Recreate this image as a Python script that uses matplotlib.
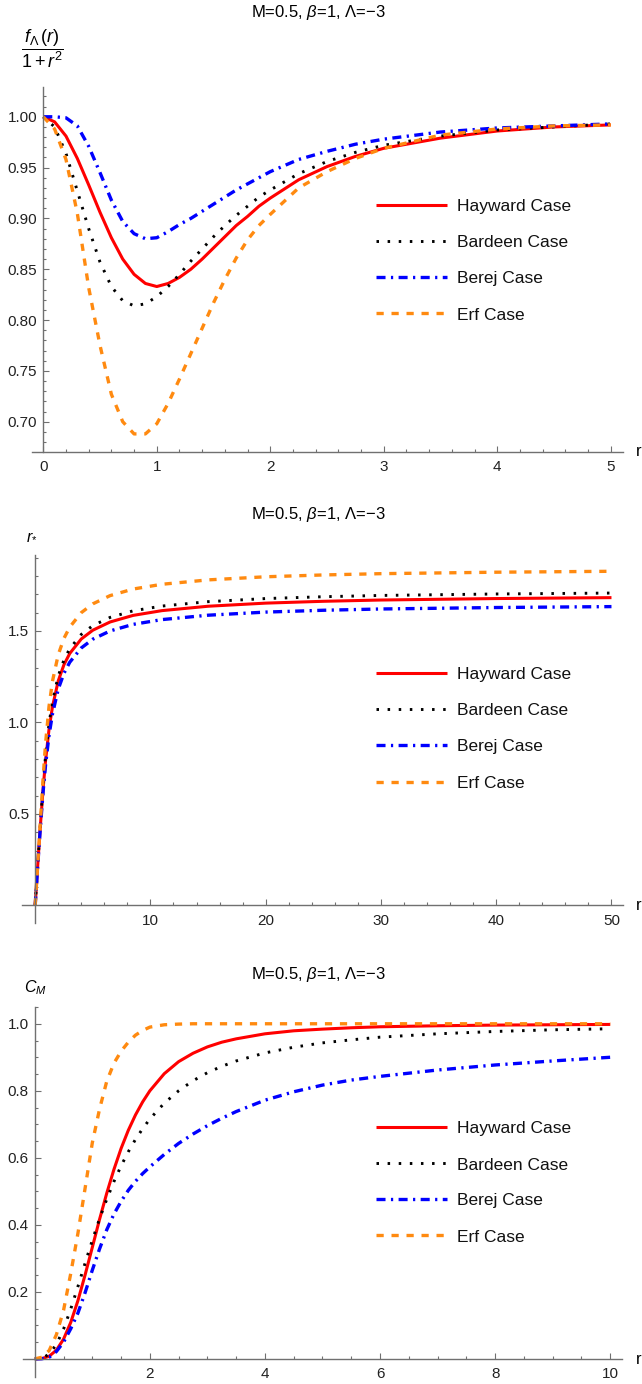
import matplotlib

matplotlib.use("Agg")
import matplotlib.pyplot as plt
import numpy as np
from matplotlib.lines import Line2D
from matplotlib.ticker import FixedLocator, FormatStrFormatter

plt.rcParams["font.family"] = ["Liberation Sans", "DejaVu Sans"]
plt.rcParams["mathtext.fontset"] = "custom"
plt.rcParams["mathtext.rm"] = "Liberation Sans"
plt.rcParams["mathtext.it"] = "Liberation Sans:italic"
plt.rcParams["mathtext.bf"] = "Liberation Sans:bold"
plt.rcParams["lines.scale_dashes"] = False

W, H = 642, 1384

CASES = ["Hayward Case", "Bardeen Case", "Berej Case", "Erf Case"]
TITLE = "M=0.5, $\\beta$=1, Λ=−3"

# f_Λ(r) / (1 + r^2)
r_metric = [0, 0.1, 0.2, 0.3, 0.4, 0.5, 0.6, 0.7, 0.8, 0.9, 1.0, 1.1, 1.2, 1.3,
            1.4, 1.5, 1.6, 1.7, 1.8, 1.9, 2.0, 2.25, 2.5, 2.75, 3.0, 3.5, 4.0,
            4.5, 5.0]
metric_hayward = [1.000, 0.995, 0.981, 0.959, 0.933, 0.906, 0.881, 0.860, 0.845,
                  0.836, 0.833, 0.836, 0.842, 0.850, 0.860, 0.871, 0.882, 0.893,
                  0.902, 0.912, 0.920, 0.938, 0.951, 0.961, 0.969, 0.979, 0.986,
                  0.990, 0.992]
metric_bardeen = [1.000, 0.990, 0.964, 0.927, 0.890, 0.857, 0.833, 0.819, 0.814,
                  0.816, 0.823, 0.833, 0.845, 0.858, 0.870, 0.882, 0.893, 0.903,
                  0.912, 0.921, 0.928, 0.944, 0.956, 0.965, 0.972, 0.981, 0.987,
                  0.990, 0.993]
metric_berej = [1.000, 1.000, 0.999, 0.991, 0.971, 0.945, 0.918, 0.897, 0.885,
                0.880, 0.881, 0.887, 0.894, 0.900, 0.907, 0.914, 0.921, 0.928,
                0.934, 0.940, 0.946, 0.958, 0.966, 0.973, 0.978, 0.985, 0.989,
                0.991, 0.993]
metric_erf = [1.000, 0.988, 0.958, 0.905, 0.832, 0.775, 0.727, 0.700, 0.688,
              0.688, 0.698, 0.718, 0.742, 0.767, 0.792, 0.817, 0.840, 0.861,
              0.879, 0.893, 0.904, 0.930, 0.946, 0.959, 0.969, 0.982, 0.988,
              0.991, 0.992]

# tortoise coordinate r_*
r_tort = [0, 0.1, 0.25, 0.45, 0.7, 0.9, 1.2, 1.5, 2.0, 2.5, 3.0, 4.0, 5.0,
          6.5, 8.5, 11, 15, 20, 25, 30, 40, 50]
tort_hayward = [0, 0.100, 0.247, 0.434, 0.647, 0.791, 0.962, 1.086, 1.227, 1.316,
                1.377, 1.456, 1.504, 1.549, 1.585, 1.611, 1.635, 1.652, 1.662,
                1.669, 1.677, 1.682]
tort_bardeen = [0, 0.100, 0.249, 0.445, 0.668, 0.818, 0.991, 1.115, 1.254, 1.342,
                1.403, 1.481, 1.529, 1.574, 1.610, 1.636, 1.660, 1.677, 1.687,
                1.694, 1.702, 1.707]
tort_berej = [0, 0.0995, 0.244, 0.426, 0.629, 0.767, 0.929, 1.046, 1.182, 1.269,
              1.329, 1.407, 1.455, 1.500, 1.536, 1.562, 1.586, 1.603, 1.613,
              1.620, 1.628, 1.633]
tort_erf = [0, 0.100, 0.251, 0.455, 0.708, 0.885, 1.087, 1.225, 1.370, 1.460,
            1.521, 1.600, 1.648, 1.693, 1.729, 1.755, 1.779, 1.796, 1.806,
            1.813, 1.821, 1.826]

# C_M
r_mass = [0, 0.125, 0.25, 0.375, 0.5, 0.625, 0.75, 0.875, 1.0, 1.125, 1.25,
          1.375, 1.5, 1.625, 1.75, 1.875, 2.0, 2.25, 2.5, 2.75, 3.0, 3.25, 3.5,
          4.0, 4.5, 5.0, 5.5, 6.0, 7.0, 8.0, 9.0, 10.0]
mass_hayward = [0, 0.001, 0.008, 0.026, 0.059, 0.109, 0.174, 0.251, 0.333, 0.416,
                0.494, 0.565, 0.628, 0.682, 0.728, 0.767, 0.800, 0.851, 0.887,
                0.912, 0.931, 0.945, 0.955, 0.970, 0.979, 0.984, 0.988, 0.991,
                0.994, 0.996, 0.997, 0.998]
mass_bardeen = [0, 0.002, 0.014, 0.043, 0.089, 0.149, 0.216, 0.286, 0.354, 0.418,
                0.476, 0.529, 0.576, 0.618, 0.655, 0.687, 0.716, 0.763, 0.800,
                0.830, 0.854, 0.873, 0.889, 0.913, 0.930, 0.943, 0.952, 0.960,
                0.970, 0.977, 0.982, 0.985]
mass_berej = [0, 0.0005, 0.005, 0.022, 0.050, 0.090, 0.137, 0.198, 0.265, 0.328,
              0.385, 0.432, 0.470, 0.503, 0.530, 0.553, 0.573, 0.610, 0.643,
              0.671, 0.696, 0.718, 0.738, 0.772, 0.797, 0.817, 0.832, 0.843,
              0.862, 0.877, 0.889, 0.900]
mass_erf = [0, 0.005, 0.025, 0.072, 0.145, 0.255, 0.375, 0.510, 0.645, 0.745,
            0.828, 0.882, 0.918, 0.945, 0.966, 0.980, 0.990, 0.997, 0.999, 1.0,
            1.0, 1.0, 1.0, 1.0, 1.0, 1.0, 1.0, 1.0, 1.0, 1.0, 1.0, 1.0]

# colour, width, line style for each case, in CASES order
STYLES = [
    ("#ff0000", 2.2, "-"),
    ("#000000", 2.1, (0, (1.8, 6.2))),
    ("#0000ff", 2.4, (0, (6.5, 3.9, 1.6, 3.9))),
    ("#ff8a10", 2.4, (0, (5.2, 5.6))),
]

AXIS_GREY = "#707070"

fig = plt.figure(figsize=(W / 100, H / 100), dpi=100)


def axes_px(left, right, top, bottom):
    return fig.add_axes([left / W, 1 - bottom / H, (right - left) / W, (bottom - top) / H])


def style_axes(ax, xlim, ylim, x_at, xmajor, xminor, ymajor, yminor, yfmt):
    ax.set_xlim(*xlim)
    ax.set_ylim(*ylim)
    ax.spines["top"].set_visible(False)
    ax.spines["right"].set_visible(False)
    ax.spines["left"].set_position(("data", 0))
    ax.spines["bottom"].set_position(("data", x_at))
    for side in ("left", "bottom"):
        ax.spines[side].set_color(AXIS_GREY)
        ax.spines[side].set_linewidth(1.0)
    ax.xaxis.set_major_locator(FixedLocator(xmajor))
    ax.xaxis.set_minor_locator(FixedLocator(xminor))
    ax.yaxis.set_major_locator(FixedLocator(ymajor))
    ax.yaxis.set_minor_locator(FixedLocator(yminor))
    ax.xaxis.set_major_formatter(FormatStrFormatter("%g"))
    ax.yaxis.set_major_formatter(FormatStrFormatter(yfmt))
    ax.tick_params(which="both", direction="in", color=AXIS_GREY, width=0.8,
                   labelsize=11, labelcolor="#222222")
    ax.tick_params(which="major", length=4.0)
    ax.tick_params(which="minor", length=2.2)
    ax.tick_params(axis="x", which="major", pad=6)
    ax.tick_params(axis="y", which="major", pad=4.3)
    ax.patch.set_visible(False)


def draw_curves(ax, r, series):
    for values, (color, lw, ls) in zip(series, STYLES):
        ax.plot(r, values, color=color, lw=lw, linestyle=ls,
                solid_capstyle="butt", dash_capstyle="butt")


def draw_legend(rows_y):
    for label, y, (color, lw, ls) in zip(CASES, rows_y, STYLES):
        fig.add_artist(Line2D([376 / W, 447 / W], [1 - y / H, 1 - y / H],
                              transform=fig.transFigure, color=color, lw=lw,
                              linestyle=ls, solid_capstyle="butt",
                              dash_capstyle="butt"))
        fig.text(457 / W, 1 - (y + 6.2) / H, label, fontsize=12.5,
                 ha="left", va="baseline", color="#111111")


def ticks_between(start, stop, step):
    return list(np.round(np.arange(start, stop + step / 2, step), 4))


# top panel
ax1 = axes_px(31.7, 622.7, 87.3, 451.7)
style_axes(ax1, (-0.102, 5.105), (0.6705, 1.029), 0.6705,
           [0, 1, 2, 3, 4, 5], ticks_between(0.2, 5.0, 0.2),
           ticks_between(0.70, 1.00, 0.05), ticks_between(0.68, 1.02, 0.01), "%.2f")
draw_curves(ax1, r_metric, [metric_hayward, metric_bardeen, metric_berej, metric_erf])
fig.text(318 / W, 1 - 12.7 / H, TITLE, fontsize=12, ha="center", va="center")
fig.text(42 / W, 1 - 49 / H, r"$\dfrac{f_{\Lambda}\,(r)}{1+r^2}$", fontsize=13,
         ha="center", va="center")
fig.text(636 / W, 1 - 452 / H, "r", fontsize=12, ha="left", va="center")
draw_legend([204.5, 240.8, 277.1, 313.4])

# middle panel
ax2 = axes_px(22.5, 623.0, 555.0, 923.0)
style_axes(ax2, (-1.1, 51.0), (-0.096, 1.915), 0,
           [10, 20, 30, 40, 50], ticks_between(2, 50, 2),
           [0.5, 1.0, 1.5], ticks_between(0.1, 1.9, 0.1), "%.1f")
draw_curves(ax2, r_tort, [tort_hayward, tort_bardeen, tort_berej, tort_erf])
fig.text(318 / W, 1 - 515 / H, TITLE, fontsize=12, ha="center", va="center")
fig.text(32 / W, 1 - 535 / H, r"$r_{*}$", fontsize=11.5, ha="center", va="center")
fig.text(636 / W, 1 - 906 / H, "r", fontsize=12, ha="left", va="center")
draw_legend([672.7, 709.0, 745.3, 781.7])

# bottom panel
ax3 = axes_px(22.7, 622.3, 1007.0, 1377.0)
style_axes(ax3, (-0.21, 10.21), (-0.054, 1.05), 0,
           [2, 4, 6, 8, 10], ticks_between(0.5, 10, 0.5),
           [0.2, 0.4, 0.6, 0.8, 1.0], ticks_between(0.05, 1.05, 0.05), "%.1f")
draw_curves(ax3, r_mass, [mass_hayward, mass_bardeen, mass_berej, mass_erf])
fig.text(318 / W, 1 - 975 / H, TITLE, fontsize=12, ha="center", va="center")
fig.text(35 / W, 1 - 988 / H, r"$C_{M}$", fontsize=11.5, ha="center", va="center")
fig.text(636 / W, 1 - 1360 / H, "r", fontsize=12, ha="left", va="center")
draw_legend([1126.7, 1163.3, 1199.3, 1235.3])

fig.savefig("out.png", dpi=100)
